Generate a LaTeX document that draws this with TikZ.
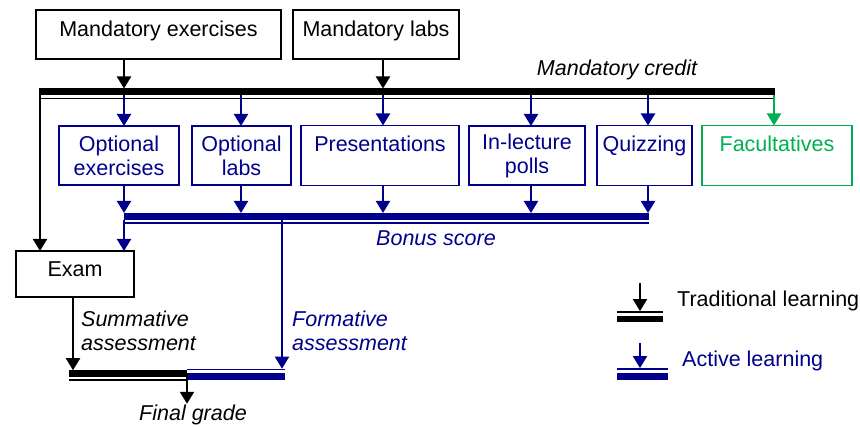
\documentclass[tikz,border=0pt]{standalone}
\usepackage{fontspec}
\setmainfont{Liberation Sans}
\usetikzlibrary{arrows.meta, positioning}
\definecolor{active}{HTML}{00008C}
\definecolor{facult}{HTML}{00B050}

\begin{document}
\begin{tikzpicture}[
  x=1pt, y=-1pt,
  font=\fontsize{21.5}{24}\selectfont,
  box/.style     = {rectangle, draw, line width=1.6pt, inner sep=0pt, outer sep=0pt, align=center},
  mandbox/.style = {box, text height=26.5pt, text depth=22.5pt},
  onebox/.style  = {box, text height=26pt, text depth=34pt},
  twobox/.style  = {box, minimum height=59pt},
  arrow/.style   = {-{Triangle[width=14pt,length=12pt]}, line width=2pt},
  bar/.style     = {rectangle, fill, inner sep=0pt, outer sep=0pt},
  note/.style    = {inner sep=0pt, align=left, font=\fontsize{21.5}{24}\selectfont\itshape},
]
  \useasboundingbox (0,0) rectangle (860,427);

  \coordinate (colL) at (40,0);
  \coordinate (colS) at (73,0);
  \coordinate (colA) at (124,0);
  \coordinate (colG) at (187,0);
  \coordinate (colB) at (241,0);
  \coordinate (colM) at (282,0);
  \coordinate (colC) at (383,0);
  \coordinate (colD) at (531,0);
  \coordinate (colE) at (648,0);
  \coordinate (colF) at (774,0);

  \node[mandbox, minimum width=245pt, anchor=north west] (mex) at (36,10) {Mandatory exercises};
  \node[mandbox, minimum width=166pt, right=12pt of mex] (mlabs) {Mandatory labs};

  \node[bar, minimum width=736pt, minimum height=7pt] (credit) at (407,92) {};
  \node[bar, minimum width=736pt, minimum height=1.8pt] (creditline) at (407,98.5) {};
  \node[note] (credtext) at (617,70) {Mandatory credit};

  \node[twobox, active, minimum width=120pt, anchor=north west] (opex) at (59,126) {Optional\\exercises};
  \node[twobox, active, minimum width=99pt, right=13pt of opex] (oplabs) {Optional\\labs};
  \node[onebox, active, minimum width=158pt, right=10pt of oplabs] (pres) {Presentations};
  \node[twobox, active, minimum width=116pt, right=10pt of pres] (polls) {In-lecture\\polls};
  \node[onebox, active, minimum width=95pt, right=12pt of polls] (quiz) {Quizzing};
  \node[onebox, facult, minimum width=150pt, right=10pt of quiz] (fac) {Facultatives};

  \node[bar, active, minimum width=525pt, minimum height=7pt] (bonus) at (386.5,216.5) {};
  \node[bar, active, minimum width=525pt, minimum height=1.8pt] (bonusline) at (386.5,223) {};
  \node[note, active] (bonustext) at (436,238) {Bonus score};

  \node[box, text height=25.5pt, text depth=20.5pt, minimum width=118pt, anchor=north west] (exam) at (16,251) {Exam};

  \node[bar, minimum width=118pt, minimum height=6.5pt] (summ) at (128,373.5) {};
  \node[bar, minimum width=118pt, minimum height=1.6pt] (summline) at (128,380) {};
  \node[bar, active, minimum width=98pt, minimum height=7pt] (form) at (236,376.5) {};
  \node[bar, active, minimum width=98pt, minimum height=1.6pt] (formline) at (236,369.5) {};

  \node[note, anchor=west] (summtext) at (81,330.5) {Summative\\assessment};
  \node[note, active, anchor=west] (formtext) at (292,330.5) {Formative\\assessment};
  \node[note, inner sep=1pt] (grade) at (193,415) {Final grade};

  \draw[arrow] (mex.south -| colA)   -- (colA |- credit.north);
  \draw[arrow] (mlabs.south -| colC) -- (colC |- credit.north);

  \draw[arrow] (colL |- credit.south) -- (colL |- exam.north);
  \draw[arrow, active] (colA |- credit.south) -- (colA |- opex.north);
  \draw[arrow, active] (colB |- credit.south) -- (colB |- oplabs.north);
  \draw[arrow, active] (colC |- credit.south) -- (colC |- pres.north);
  \draw[arrow, active] (colD |- credit.south) -- (colD |- polls.north);
  \draw[arrow, active] (colE |- credit.south) -- (colE |- quiz.north);
  \draw[arrow, facult] (colF |- credit.south) -- (colF |- fac.north);

  \draw[arrow, active] (opex.south -| colA)   -- (colA |- bonus.north);
  \draw[arrow, active] (oplabs.south -| colB) -- (colB |- bonus.north);
  \draw[arrow, active] (pres.south -| colC)   -- (colC |- bonus.north);
  \draw[arrow, active] (polls.south -| colD)  -- (colD |- bonus.north);
  \draw[arrow, active] (quiz.south -| colE)   -- (colE |- bonus.north);

  \draw[arrow, active] (colA |- bonus.south) -- (colA |- exam.north);
  \draw[arrow, active] (colM |- bonus.south) -- (colM |- formline.north);
  \draw[arrow] (exam.south -| colS) -- (colS |- summ.north);
  \draw[arrow] (colG |- summ.center) -- (colG |- grade.north);

  \coordinate (tradtop) at (640,283);
  \node[bar, minimum width=46pt, minimum height=1.8pt] (tradline) at (640,312) {};
  \node[bar, minimum width=46pt, minimum height=6pt] (tradbar) at (640,319) {};
  \node[inner sep=0pt, anchor=west] (tradtext) at (677,301) {Traditional learning};
  \draw[arrow] (tradtop) -- (tradline.north);

  \coordinate (acttop) at (640,343);
  \node[bar, active, minimum width=51pt, minimum height=1.8pt] (actline) at (642.5,369) {};
  \node[bar, active, minimum width=51pt, minimum height=7pt] (actbar) at (642.5,376.5) {};
  \node[active, inner sep=0pt, anchor=west] (acttext) at (682,361) {Active learning};
  \draw[arrow, active] (acttop) -- (acttop |- actline.north);
\end{tikzpicture}
\end{document}
